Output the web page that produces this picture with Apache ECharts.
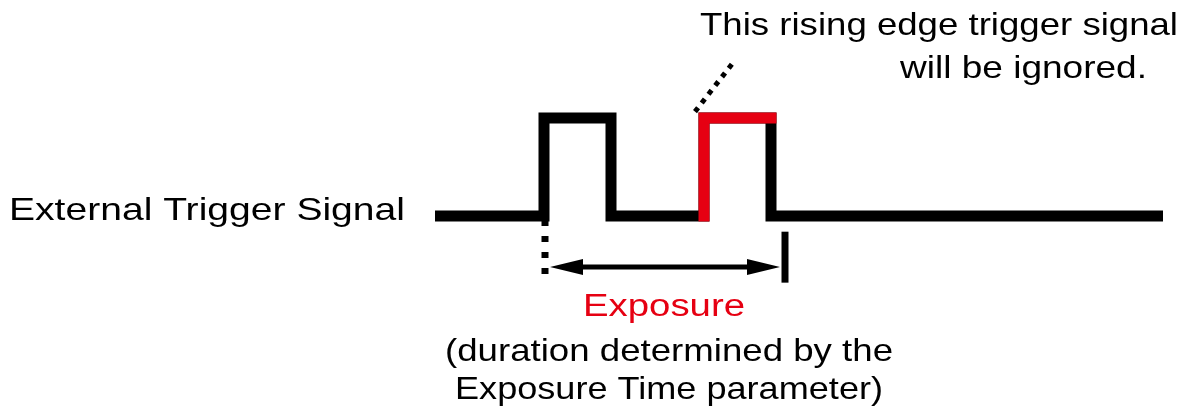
<!DOCTYPE html>
<html><head><meta charset="utf-8">
<script src="https://cdn.jsdelivr.net/npm/echarts@6/dist/echarts.min.js"></script>
<style>html,body{margin:0;padding:0;background:#fff}#c{width:1191px;height:418px}</style>
</head><body><div id="c"></div>
<script>
// ---- data (time in arbitrary units, logic level 0 = low, 1 = high) ----
const signalTimes   = [0, 109, 109, 176, 176, 269, 269, 336, 336, 728];
const signalLevels  = [0, 0,   1,   1,   0,   0,   1,   1,   0,   0];
const ignoredTimes  = [269, 269, 336];
const ignoredLevels = [0, 1, 1];
const exposureStart = 110;   // exposure begins with first rising edge
const exposureEnd   = 350;   // end of exposure
const exposureArrow = [115, 345, -0.52];           // [from, to, level]
const startMarker   = [[110, -0.04], [110, -0.68]];
const endMarker     = [[350, -0.16], [350, -0.68]];
const calloutLine   = [[260, 1.065], [300, 1.59]];
const texts = {
  signal: 'External Trigger Signal',
  note1: 'This rising edge trigger signal',
  note2: 'will be ignored.',
  exposure: 'Exposure',
  desc1: '(duration determined by the',
  desc2: 'Exposure Time parameter)'
};

const zip = (a, b) => a.map((v, i) => [v, b[i]]);

const FONT = '"Liberation Sans", Arial, sans-serif';
const mctx = document.createElement('canvas').getContext('2d');
function label(text, x0, x1, baseline, color, size) {
  mctx.font = size + 'px ' + FONT;
  const w = mctx.measureText(text).width;
  return {
    type: 'text', x: x0, y: baseline - 0.34 * size, scaleX: (x1 - x0) / w,
    style: { text: text, fill: color, font: size + 'px ' + FONT, textAlign: 'left', verticalAlign: 'middle' },
    silent: true
  };
}

const chart = echarts.init(document.getElementById('c'), null, { renderer: 'canvas' });
chart.setOption({
  animation: false,
  backgroundColor: '#ffffff',
  grid: { left: 0, right: 0, top: 0, bottom: 0 },
  xAxis: { type: 'value', min: -435, max: 756, show: false },
  yAxis: { type: 'value', min: -2.061, max: 2.204, show: false },
  series: [
    {
      type: 'line', data: zip(signalTimes, signalLevels), symbol: 'none', clip: false,
      lineStyle: { color: '#000', width: 11, join: 'miter', cap: 'butt' }, silent: true
    },
    {
      type: 'line', data: zip(ignoredTimes, ignoredLevels), symbol: 'none', clip: false,
      lineStyle: { color: '#e60012', width: 11, join: 'miter', cap: 'square' }, silent: true
    },
    {
      type: 'line', data: startMarker, symbol: 'none', clip: false,
      lineStyle: { color: '#000', width: 7, type: [6, 10] }, silent: true
    },
    {
      type: 'line', data: endMarker, symbol: 'none', clip: false,
      lineStyle: { color: '#000', width: 7 }, silent: true
    },
    {
      type: 'line', data: calloutLine, symbol: 'none', clip: false,
      lineStyle: { color: '#000', width: 5, type: [5, 6] }, silent: true
    },
    {
      type: 'custom', clip: false, silent: true,
      data: [exposureArrow],
      renderItem: function (params, api) {
        const p1 = api.coord([api.value(0), api.value(2)]);
        const p2 = api.coord([api.value(1), api.value(2)]);
        const hl = 33, hh = 8, sw = 5;
        return {
          type: 'group', children: [
            { type: 'rect', shape: { x: p1[0] + hl - 2, y: p1[1] - sw / 2, width: p2[0] - p1[0] - 2 * hl + 4, height: sw }, style: { fill: '#000' } },
            { type: 'polygon', shape: { points: [[p1[0], p1[1]], [p1[0] + hl, p1[1] - hh], [p1[0] + hl, p1[1] + hh]] }, style: { fill: '#000' } },
            { type: 'polygon', shape: { points: [[p2[0], p2[1]], [p2[0] - hl, p2[1] - hh], [p2[0] - hl, p2[1] + hh]] }, style: { fill: '#000' } }
          ]
        };
      }
    }
  ],
  graphic: [
    label(texts.signal, 9, 405, 222, '#000', 32),
    label(texts.note1, 700, 1178, 37, '#000', 32),
    label(texts.note2, 900, 1147, 80, '#000', 32),
    label(texts.exposure, 583, 745, 318, '#e60012', 31),
    label(texts.desc1, 445, 893, 363, '#000', 32),
    label(texts.desc2, 455, 883, 401, '#000', 32)
  ]
});
</script></body></html>
